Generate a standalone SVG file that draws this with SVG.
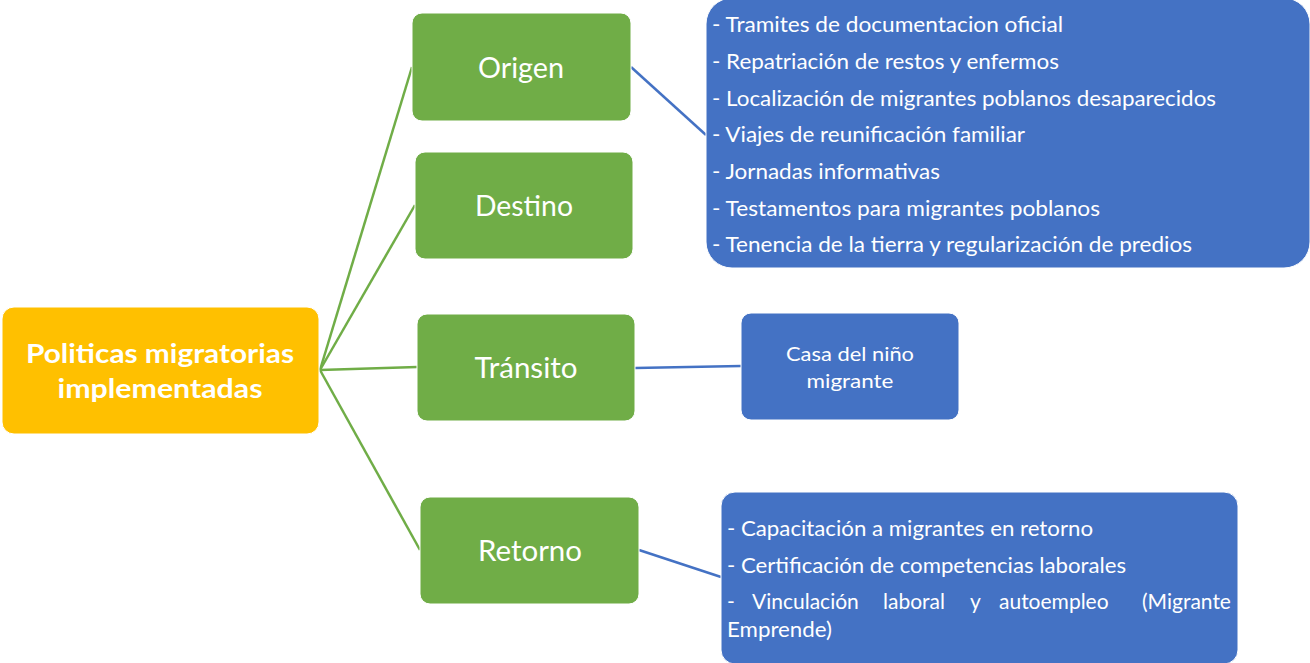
<svg xmlns="http://www.w3.org/2000/svg" width="1310" height="663" viewBox="0 0 1310 663">
<style>
.g{fill:#70AD47;stroke:#ffffff;stroke-width:1}
.b{fill:#4472C4;stroke:#ffffff;stroke-width:1}
.o{fill:#FFC000;stroke:#ffffff;stroke-width:1}
text{font-family:Lato,"Open Sans","Liberation Sans",sans-serif;fill:#ffffff}
.t{font-size:28px;text-anchor:middle;dominant-baseline:central}
.l{font-size:21px;dominant-baseline:central}
.c{font-size:20px;text-anchor:middle;dominant-baseline:central}
.r{font-size:26px;font-weight:bold;text-anchor:middle;dominant-baseline:central}
.cg{stroke:#70AD47;stroke-width:2.5;fill:none}
.cb{stroke:#4472C4;stroke-width:2.5;fill:none}
</style>
<rect width="1310" height="663" fill="#ffffff"/>
<g id="connectors">
<line class="cg" x1="320" y1="370" x2="412" y2="67"/>
<line class="cg" x1="320" y1="370" x2="415" y2="205"/>
<line class="cg" x1="320" y1="370" x2="417" y2="367"/>
<line class="cg" x1="320" y1="370" x2="420" y2="550"/>
<line class="cb" x1="631" y1="67" x2="706" y2="135"/>
<line class="cb" x1="635" y1="368" x2="741" y2="366"/>
<line class="cb" x1="639" y1="550" x2="721" y2="577"/>
</g>
<g id="root">
<rect class="o" x="2" y="307" width="317" height="127" rx="12"/>
<text class="r" x="160" y="353" textLength="268" lengthAdjust="spacingAndGlyphs">Politicas migratorias</text>
<text class="r" x="160" y="388" textLength="205" lengthAdjust="spacingAndGlyphs">implementadas</text>
</g>
<g id="origen">
<rect class="g" x="412" y="13" width="219" height="108" rx="10"/>
<text class="t" x="521" y="67" textLength="86" lengthAdjust="spacingAndGlyphs">Origen</text>
</g>
<g id="destino">
<rect class="g" x="415" y="152" width="218" height="107" rx="10"/>
<text class="t" x="524" y="205" textLength="98" lengthAdjust="spacingAndGlyphs">Destino</text>
</g>
<g id="transito">
<rect class="g" x="417" y="314" width="218" height="107" rx="10"/>
<text class="t" x="526" y="367" textLength="103" lengthAdjust="spacingAndGlyphs">Tránsito</text>
</g>
<g id="retorno">
<rect class="g" x="420" y="497" width="219" height="107" rx="10"/>
<text class="t" x="530" y="550" textLength="104" lengthAdjust="spacingAndGlyphs">Retorno</text>
</g>
<g id="origen-list">
<rect class="b" x="706" y="-2" width="604" height="270" rx="26"/>
<text class="l" x="712" y="23" textLength="351" lengthAdjust="spacingAndGlyphs">- Tramites de documentacion oficial</text>
<text class="l" x="712" y="60" textLength="347" lengthAdjust="spacingAndGlyphs">- Repatriación de restos y enfermos</text>
<text class="l" x="712" y="97" textLength="504" lengthAdjust="spacingAndGlyphs">- Localización de migrantes poblanos desaparecidos</text>
<text class="l" x="712" y="133" textLength="313" lengthAdjust="spacingAndGlyphs">- Viajes de reunificación familiar</text>
<text class="l" x="712" y="170" textLength="228" lengthAdjust="spacingAndGlyphs">- Jornadas informativas</text>
<text class="l" x="712" y="207" textLength="388" lengthAdjust="spacingAndGlyphs">- Testamentos para migrantes poblanos</text>
<text class="l" x="712" y="243" textLength="480" lengthAdjust="spacingAndGlyphs">- Tenencia de la tierra y regularización de predios</text>
</g>
<g id="casa">
<rect class="b" x="741" y="313" width="218" height="107" rx="10"/>
<text class="c" x="850" y="353" textLength="128" lengthAdjust="spacingAndGlyphs">Casa del niño</text>
<text class="c" x="850" y="380" textLength="87" lengthAdjust="spacingAndGlyphs">migrante</text>
</g>
<g id="retorno-list">
<rect class="b" x="721" y="492" width="517" height="172" rx="14"/>
<text class="l" x="727" y="527" textLength="366" lengthAdjust="spacingAndGlyphs">- Capacitación a migrantes en retorno</text>
<text class="l" x="727" y="564" textLength="399" lengthAdjust="spacingAndGlyphs">- Certificación de competencias laborales</text>
<text class="l" y="600"><tspan x="727">-</tspan><tspan x="752">Vinculación</tspan><tspan x="883">laboral</tspan><tspan x="970">y</tspan><tspan x="999">autoempleo</tspan><tspan x="1142">(Migrante</tspan></text>
<text class="l" x="727" y="628" textLength="105" lengthAdjust="spacingAndGlyphs">Emprende)</text>
</g>
</svg>
